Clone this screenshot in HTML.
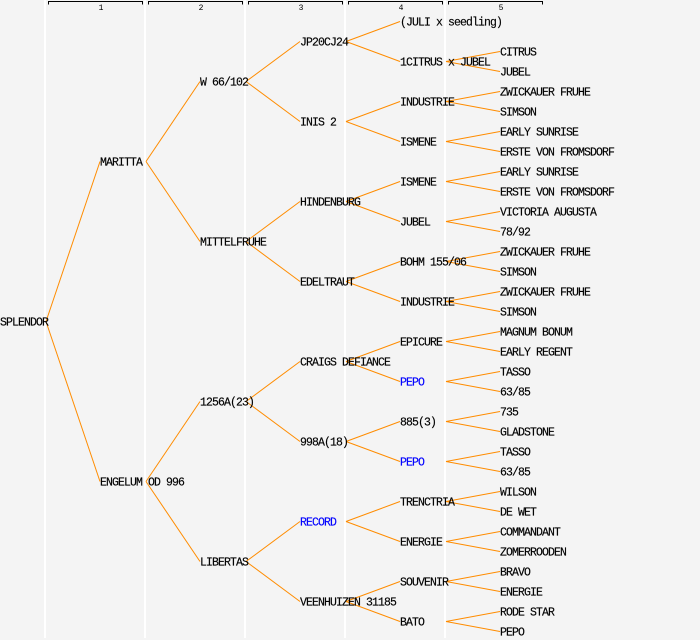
<!DOCTYPE html>
<html><head><style>
html,body{margin:0;padding:0;background:#f4f4f4}
svg{display:block}
text{font-family:"Liberation Mono",monospace;font-size:11.5px;letter-spacing:-0.9px;fill:#000;stroke:#000;stroke-width:0.15px}
.b{fill:#0000ff;stroke:#0000ff}
.h{font-size:8px;letter-spacing:0;text-anchor:middle;stroke:none}
line.c{stroke:#ff8c00;stroke-width:1}
</style></head><body>
<svg width="700" height="640" xmlns="http://www.w3.org/2000/svg">
<rect width="700" height="640" fill="#f4f4f4"/>
<g stroke="#fff" stroke-width="2">
<line x1="45" y1="0" x2="45" y2="638"/><line x1="145" y1="0" x2="145" y2="638"/>
<line x1="245" y1="0" x2="245" y2="638"/><line x1="345" y1="0" x2="345" y2="638"/>
<line x1="445" y1="0" x2="445" y2="638"/>
</g>
<g stroke="#000" stroke-width="1" fill="none">
<path d="M48.5 4.5V1.5H142.5V4.5"/><path d="M148.5 4.5V1.5H242.5V4.5"/>
<path d="M248.5 4.5V1.5H342.5V4.5"/><path d="M348.5 4.5V1.5H442.5V4.5"/>
<path d="M448.5 4.5V1.5H542.5V4.5"/>
</g>
<text class="h" x="101" y="10">1</text><text class="h" x="201" y="10">2</text>
<text class="h" x="301" y="10">3</text><text class="h" x="401" y="10">4</text>
<text class="h" x="501" y="10">5</text>
<g id="lines"></g>
<g id="texts"></g>
</svg>
<script>
const nodes=[
[0,321,"SPLENDOR",-1],
[1,161,"MARITTA",0],[1,481,"ENGELUM OD 996",0],
[2,81,"W 66/102",1],[2,241,"MITTELFRUHE",1],[2,401,"1256A(23)",2],[2,561,"LIBERTAS",2],
[3,41,"JP20CJ24",3],[3,121,"INIS 2",3],[3,201,"HINDENBURG",4],[3,281,"EDELTRAUT",4],
[3,361,"CRAIGS DEFIANCE",5],[3,441,"998A(18)",5],[3,521,"RECORD",6,1],[3,601,"VEENHUIZEN 31185",6],
[4,21,"(JULI x seedling)",7],[4,61,"1CITRUS x JUBEL",7],[4,101,"INDUSTRIE",8],[4,141,"ISMENE",8],
[4,181,"ISMENE",9],[4,221,"JUBEL",9],[4,261,"BOHM 155/06",10],[4,301,"INDUSTRIE",10],
[4,341,"EPICURE",11],[4,381,"PEPO",11,1],[4,421,"885(3)",12],[4,461,"PEPO",12,1],
[4,501,"TRENCTRIA",13],[4,541,"ENERGIE",13],[4,581,"SOUVENIR",14],[4,621,"BATO",14],
[5,51,"CITRUS",16],[5,71,"JUBEL",16],[5,91,"ZWICKAUER FRUHE",17],[5,111,"SIMSON",17],
[5,131,"EARLY SUNRISE",18],[5,151,"ERSTE VON FROMSDORF",18],[5,171,"EARLY SUNRISE",19],[5,191,"ERSTE VON FROMSDORF",19],
[5,211,"VICTORIA AUGUSTA",20],[5,231,"78/92",20],[5,251,"ZWICKAUER FRUHE",21],[5,271,"SIMSON",21],
[5,291,"ZWICKAUER FRUHE",22],[5,311,"SIMSON",22],[5,331,"MAGNUM BONUM",23],[5,351,"EARLY REGENT",23],
[5,371,"TASSO",24],[5,391,"63/85",24],[5,411,"735",25],[5,431,"GLADSTONE",25],
[5,451,"TASSO",26],[5,471,"63/85",26],[5,491,"WILSON",27],[5,511,"DE WET",27],
[5,531,"COMMANDANT",28],[5,551,"ZOMERROODEN",28],[5,571,"BRAVO",29],[5,591,"ENERGIE",29],
[5,611,"RODE STAR",30],[5,631,"PEPO",30]];
const NS="http://www.w3.org/2000/svg";
const L=document.getElementById("lines"),T=document.getElementById("texts");
nodes.forEach(n=>{
 const [c,y,t,p,b]=n;
 if(p>=0){const q=nodes[p];const l=document.createElementNS(NS,"line");
  l.setAttribute("class","c");l.setAttribute("x1",q[0]*100+46);l.setAttribute("y1",q[1]+0.5);
  l.setAttribute("x2",c*100);l.setAttribute("y2",y+0.5);L.appendChild(l);}
 const e=document.createElementNS(NS,"text");e.setAttribute("x",c*100);e.setAttribute("y",y+4.5);
 if(b)e.setAttribute("class","b");e.textContent=t;T.appendChild(e);
});
</script>
</body></html>
